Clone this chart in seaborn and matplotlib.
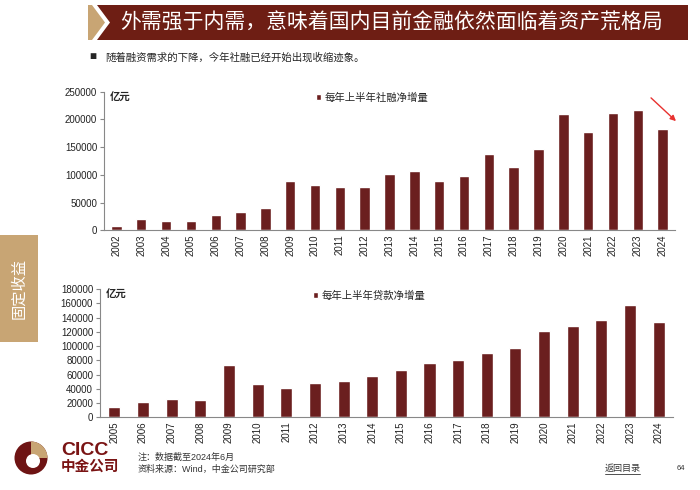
import numpy as np
import pandas as pd
import matplotlib.pyplot as plt
import seaborn as sns
from matplotlib.patches import Polygon, Rectangle, Circle, Wedge

# data (亿元)
tsf_years = [str(y) for y in range(2002, 2025)]
tsf_values = [8300, 19800, 17300, 17300, 27000, 33600, 40800, 89500, 82300, 77500, 77500,
              101500, 107000, 88400, 98500, 138200, 114800, 147200, 209800, 177900,
              212200, 216400, 182100]

loan_years = [str(y) for y in range(2005, 2025)]
loan_values = [14000, 21500, 25200, 24300, 73800, 46300, 41500, 48500, 50500, 57500,
               65900, 75700, 80000, 90200, 97200, 120600, 127700, 137000, 157500, 133300]

title = '外需强于内需，意味着国内目前金融依然面临着资产荒格局'
subtitle = '随着融资需求的下降，今年社融已经开始出现收缩迹象。'

bar_color = '#6B1F1F'
band_color = '#6E1E14'
tan = '#C8A574'

sns.set_style('white')
plt.rcParams['font.family'] = ['Liberation Sans', 'Noto Sans CJK SC']

fig = plt.figure(figsize=(7, 4.9), dpi=100)


def draw_bars(ax, years, values, label, ymax, step):
    df = pd.DataFrame({'year': years, 'value': values})
    sns.barplot(data=df, x='year', y='value', color=bar_color, saturation=1,
                width=0.42, label=label, ax=ax)
    ax.set_xlim(-0.5, len(years) - 0.5)
    ax.set_ylim(0, ymax)
    ax.set_yticks(np.arange(0, ymax + 1, step))
    ax.set_xlabel('')
    ax.set_ylabel('')
    for s in ['top', 'right']:
        ax.spines[s].set_visible(False)
    for s in ['left', 'bottom']:
        ax.spines[s].set_color('#888888')
        ax.spines[s].set_linewidth(0.8)
    ax.tick_params(axis='x', which='major', length=0, labelsize=7, rotation=90, pad=3,
                   labelcolor='#222222')
    ax.set_xticks(np.arange(len(years) + 1) - 0.5, minor=True)
    ax.tick_params(axis='x', which='minor', length=3, color='#888888', direction='out')
    ax.tick_params(axis='y', length=3, color='#888888', labelsize=7, left=True, pad=2,
                   labelcolor='#222222')
    ax.text(0.01, 0.99, '亿元', transform=ax.transAxes, fontsize=7.5,
            fontweight='bold', va='top', ha='left')
    ax.legend(loc='upper left', bbox_to_anchor=(0.355, 1.06), frameon=False,
              fontsize=7.5, handlelength=0.5, handleheight=0.5, handletextpad=0.3)


ax1 = fig.add_axes([0.1486, 0.530, 0.8157, 0.2829])
draw_bars(ax1, tsf_years, tsf_values, '每年上半年社融净增量', 250000, 50000)

ax2 = fig.add_axes([0.1429, 0.1484, 0.8186, 0.2618])
draw_bars(ax2, loan_years, loan_values, '每年上半年贷款净增量', 180000, 20000)

# page decoration in pixel coordinates
deco = fig.add_axes([0, 0, 1, 1], zorder=-1)
deco.set_xlim(0, 700)
deco.set_ylim(490, 0)
deco.axis('off')

over = fig.add_axes([0, 0, 1, 1], zorder=5)
over.set_xlim(0, 700)
over.set_ylim(490, 0)
over.axis('off')
over.patch.set_alpha(0)

deco.add_patch(Polygon([(88, 5), (92, 5), (105, 22.5), (92, 40), (88, 40)], color=tan, lw=0))
deco.add_patch(Polygon([(97, 5), (688, 5), (688, 40), (97, 40), (110, 22.5)],
                       color=band_color, lw=0))
deco.text(120, 23, title, color='white', fontsize=15, va='center', ha='left')

deco.text(89, 57, '■', fontsize=8.5, va='center', ha='left')
deco.text(105, 57, subtitle, fontsize=7.5, va='center', ha='left')

# side tab
deco.add_patch(Rectangle((0, 235), 38, 107, color=tan, lw=0))
deco.text(19, 288, '固定收益', color='white', fontsize=11, rotation=90,
          va='center', ha='center')

# red arrow
over.annotate('', xy=(678, 123), xytext=(649, 96),
              arrowprops=dict(arrowstyle='-|>', color='#E8312F', lw=1.0,
                              mutation_scale=8))

# logo
deco.add_patch(Circle((31, 458), 16.5, color='#6E1414', lw=0))
deco.add_patch(Wedge((31, 458), 16.5, -90, 0, color=tan, lw=0))
deco.add_patch(Circle((33, 461), 7, color='white', lw=0))
deco.text(61, 459, 'CICC', color='#7A1414', fontsize=14, fontweight='bold',
          va='bottom', ha='left')
deco.text(61, 460, '中金公司', color='#7A1414', fontsize=10.5, fontweight='bold',
          va='top', ha='left')

deco.text(138, 457, '注：数据截至2024年6月', fontsize=6.5, color='#333333',
          va='center', ha='left')
deco.text(138, 469, '资料来源：Wind，中金公司研究部', fontsize=6.5, color='#333333',
          va='center', ha='left')

deco.text(605, 468, '返回目录', fontsize=6.5, color='#333333', va='center', ha='left')
deco.plot([605, 640], [474, 474], color='#333333', lw=0.6)
deco.text(677, 468, '64', fontsize=5.5, color='#333333', va='center', ha='left')

fig.savefig('out.png', dpi=100)
